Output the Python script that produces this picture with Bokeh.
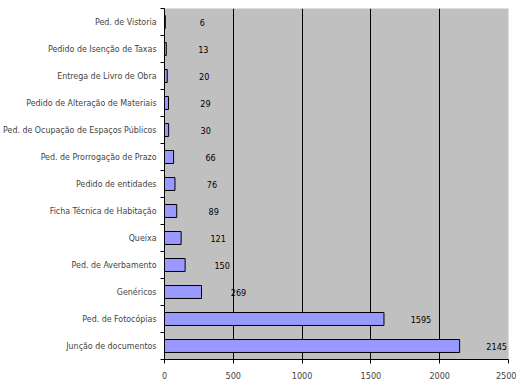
from bokeh.plotting import figure
from bokeh.models import ColumnDataSource, FixedTicker, Range1d
from bokeh.core.properties import value
from bokeh.embed import file_html
from bokeh.resources import INLINE

categories = [
    "Junção de documentos",
    "Ped. de Fotocópias",
    "Genéricos",
    "Ped. de Averbamento",
    "Queixa",
    "Ficha Técnica de Habitação",
    "Pedido de entidades",
    "Ped. de Prorrogação de Prazo",
    "Ped. de Ocupação de Espaços Públicos",
    "Pedido de Alteração de Materiais",
    "Entrega de Livro de Obra",
    "Pedido de Isenção de Taxas",
    "Ped. de Vistoria",
]
values = [2145, 1595, 269, 150, 121, 89, 76, 66, 30, 29, 20, 13, 6]
x_ticks = [0, 500, 1000, 1500, 2000, 2500]

FONT = "DejaVu Sans Condensed"

n = len(categories)
centers = [i + 0.5 for i in range(n)]
src = ColumnDataSource(dict(y=centers, v=values, lab=[str(v) for v in values]))

p = figure(width=516, height=383, output_backend="svg", toolbar_location=None,
           x_range=Range1d(0, 2500), y_range=Range1d(0, n),
           min_border_left=163, min_border_right=8, min_border_top=8, min_border_bottom=24)
p.background_fill_color = "#c0c0c0"
p.border_fill_color = "white"
p.outline_line_color = None

p.hbar(y="y", right="v", left=0, height=0.48, source=src,
       fill_color="#9999ff", line_color="black", line_width=1)

p.text(x="v", y="y", text="lab", source=src, x_offset=37,
       text_align="center", text_baseline="middle",
       text_font=value(FONT), text_font_size="9px", text_color="black")

# grid
p.xgrid.ticker = FixedTicker(ticks=x_ticks)
p.xgrid.grid_line_color = "black"
p.xgrid.grid_line_width = 1
p.ygrid.grid_line_color = None

# x axis
p.xaxis.ticker = FixedTicker(ticks=x_ticks)
p.xaxis.major_tick_out = 4
p.xaxis.major_tick_in = 0
p.xaxis.minor_tick_line_color = None
p.xaxis.axis_line_color = "black"
p.xaxis.major_label_text_font = FONT
p.xaxis.major_label_text_font_size = "9px"
p.xaxis.major_label_standoff = 8

# y axis
p.yaxis.ticker = FixedTicker(ticks=centers, minor_ticks=list(range(n + 1)))
p.yaxis.major_label_overrides = {c: cat for c, cat in zip(centers, categories)}
p.yaxis.major_tick_line_color = None
p.yaxis.major_tick_out = 0
p.yaxis.major_tick_in = 0
p.yaxis.minor_tick_out = 4
p.yaxis.minor_tick_in = 0
p.yaxis.minor_tick_line_color = "black"
p.yaxis.axis_line_color = "black"
p.yaxis.major_label_text_font = FONT
p.yaxis.major_label_text_font_size = "8.8px"
p.yaxis.major_label_standoff = 4

open("out.html", "w").write(file_html(p, INLINE))
